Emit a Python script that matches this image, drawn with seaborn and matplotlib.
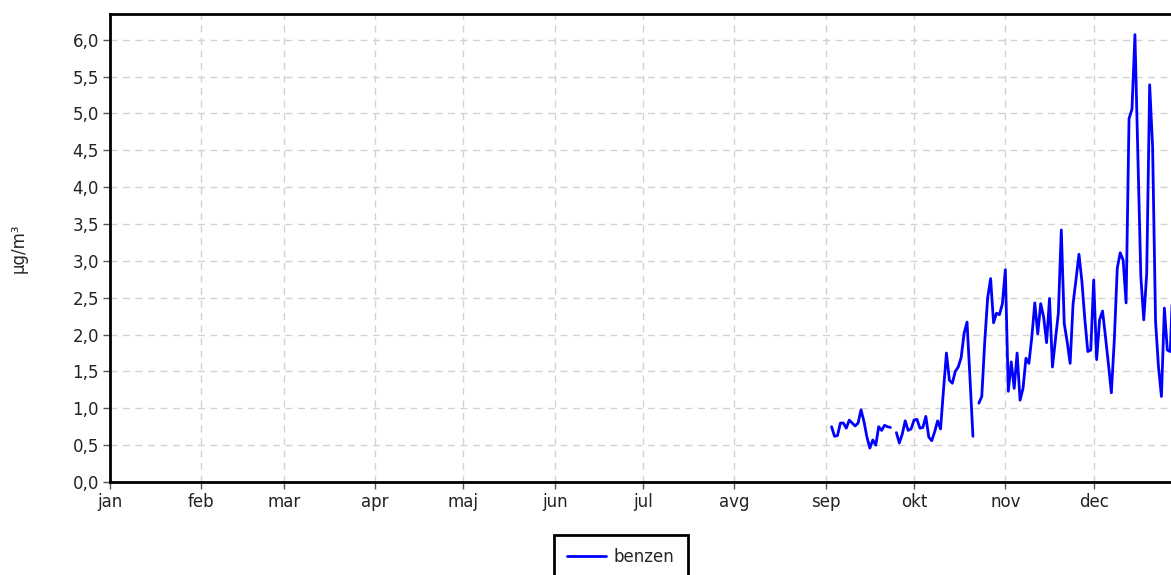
import numpy as np
import pandas as pd
import matplotlib.pyplot as plt
import seaborn as sns

sns.set_style('ticks')
plt.rcParams['font.family'] = ['DejaVu Sans']

# day of year (0 = 1 jan) where each measured stretch starts
sep_start = 245
okt_start = 267
nov_start = 295

sep_vals = [0.75, 0.62, 0.63, 0.80, 0.80, 0.73, 0.84, 0.80, 0.76, 0.80, 0.98,
            0.82, 0.61, 0.46, 0.57, 0.50, 0.75, 0.70, 0.77, 0.75, 0.74]
okt_vals = [0.67, 0.53, 0.65, 0.83, 0.70, 0.72, 0.84, 0.85, 0.73, 0.74, 0.89,
            0.61, 0.56, 0.68, 0.83, 0.72, 1.25, 1.75, 1.38, 1.34, 1.50, 1.56,
            1.69, 2.02, 2.17, 1.40, 0.62]
nov_vals = [1.07, 1.16, 1.90, 2.50, 2.76, 2.16, 2.29, 2.27, 2.42, 2.88, 1.23,
            1.63, 1.27, 1.75, 1.11, 1.27, 1.68, 1.61, 1.97, 2.43, 2.01, 2.42,
            2.24, 1.89, 2.49, 1.56, 1.93, 2.29, 3.42, 2.15, 1.90, 1.61, 2.42,
            2.75, 3.09, 2.72, 2.20, 1.77, 1.79, 2.74, 1.66, 2.20, 2.32, 1.97,
            1.60, 1.21, 1.93, 2.90, 3.11, 3.01, 2.43, 4.93, 5.06, 6.07, 4.43,
            2.79, 2.20, 2.83, 5.39, 4.55, 2.18, 1.56, 1.16, 2.36, 1.79, 1.77,
            2.85]

month_days = [0, 31, 59, 90, 120, 151, 181, 212, 243, 273, 304, 334]
month_labels = ['jan', 'feb', 'mar', 'apr', 'maj', 'jun', 'jul', 'avg',
                'sep', 'okt', 'nov', 'dec']

parts = []
for i, (start, vals) in enumerate([(sep_start, sep_vals),
                                   (okt_start, okt_vals),
                                   (nov_start, nov_vals)]):
    parts.append(pd.DataFrame({'day': np.arange(start, start + len(vals)),
                               'value': vals, 'seg': i}))
df = pd.concat(parts, ignore_index=True)

W, H = 1171, 575
fig = plt.figure(figsize=(W / 100, H / 100), dpi=100)
# plot area runs past the right edge of the image, as in the original
ax = fig.add_axes([110 / W, 93 / H, (1185 - 110) / W, 468 / H])

sns.lineplot(data=df, x='day', y='value', units='seg', estimator=None,
             color='#0000ff', linewidth=2.0, ax=ax, legend=False)

ax.set_xlim(0, 365)
ax.set_ylim(0, 6.35)
ax.set_xticks(month_days)
ax.set_xticklabels(month_labels)
yt = np.arange(0, 6.01, 0.5)
ax.set_yticks(yt)
ax.set_yticklabels([f'{v:.1f}'.replace('.', ',') for v in yt])
ax.set_xlabel('')
ax.set_ylabel('µg/m³', fontsize=12, labelpad=32)

ax.grid(True, color='#d2d2d2', linestyle=(0, (5, 4)), linewidth=1.0)
ax.tick_params(labelsize=12, length=5, width=1, color='#555555', pad=3,
               labelcolor='#222222')
for sp in ax.spines.values():
    sp.set_linewidth(2)
    sp.set_color('black')

handle = plt.Line2D([], [], color='#0000ff', linewidth=2.0)
leg = fig.legend([handle], ['benzen'], loc='upper center',
                 bbox_to_anchor=(621 / W, 1 - 535 / H), fontsize=12,
                 frameon=True, fancybox=False, framealpha=1,
                 handlelength=2.3, handletextpad=0.5, borderpad=0.8,
                 borderaxespad=0)
leg.get_frame().set_edgecolor('black')
leg.get_frame().set_linewidth(2)

fig.savefig('out.png', dpi=100)
